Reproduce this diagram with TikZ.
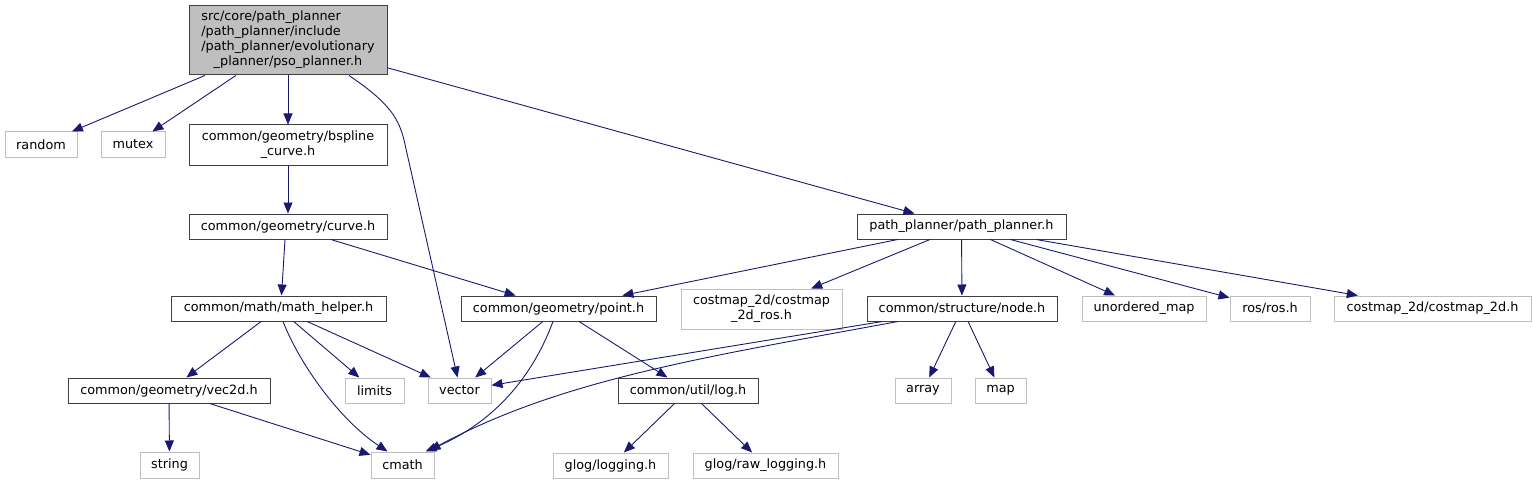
\documentclass[tikz,border=0pt]{standalone}
\usepackage{fontspec}
\setmainfont{DejaVu Sans}
\usetikzlibrary{arrows.meta}
\definecolor{edgec}{HTML}{191970}
\definecolor{grayb}{HTML}{BFBFBF}
\definecolor{boxb}{HTML}{404040}
\begin{document}
\begin{tikzpicture}[x=1pt,y=-1pt,
  every node/.style={font=\fontsize{12.8}{15}\selectfont, inner sep=0pt, text=black, align=center},
  hbox/.style={draw=boxb, line width=1pt, fill=white, minimum height=25pt},
  sbox/.style={draw=grayb, line width=1pt, fill=white, minimum height=25pt},
  edge/.style={draw=edgec, line width=0.9pt, -{Triangle[length=11pt,width=9pt]}}
]
\useasboundingbox (0,0) rectangle (1533,484);

\node[hbox, fill=grayb, minimum width=198pt, minimum height=69pt] (root) at (288,40.5)
 {\begin{tabular}{@{}l@{}}src/core/path\_planner\\/path\_planner/include\\/path\_planner/evolutionary\\\multicolumn{1}{@{}c@{}}{\_planner/pso\_planner.h}\end{tabular}};
\node[sbox, minimum width=72pt] (random) at (41,144.5) {random};
\node[sbox, minimum width=64pt] (mutex) at (133,144.5) {mutex};
\node[hbox, minimum width=198pt, minimum height=40pt] (bspline) at (288,145) {common/geometry/bspline\\\_curve.h};
\node[hbox, minimum width=198pt] (curve) at (288,226.5) {common/geometry/curve.h};
\node[hbox, minimum width=209pt] (pp) at (961.5,226.5) {path\_planner/path\_planner.h};
\node[hbox, minimum width=215pt] (math) at (278.5,308.5) {common/math/math\_helper.h};
\node[hbox, minimum width=195pt] (point) at (558.5,308.5) {common/geometry/point.h};
\node[sbox, minimum width=161pt, minimum height=40pt] (cmros) at (761.5,309) {costmap\_2d/costmap\\\_2d\_ros.h};
\node[hbox, minimum width=190pt] (snode) at (962,308.5) {common/structure/node.h};
\node[sbox, minimum width=124pt] (umap) at (1144,308.5) {unordered\_map};
\node[sbox, minimum width=80pt] (ros) at (1270,308.5) {ros/ros.h};
\node[sbox, minimum width=197pt] (cm2d) at (1432.5,308.5) {costmap\_2d/costmap\_2d.h};
\node[hbox, minimum width=202pt] (vec2d) at (169,390.5) {common/geometry/vec2d.h};
\node[sbox, minimum width=59pt] (limits) at (374.5,390.5) {limits};
\node[sbox, minimum width=63pt] (vector) at (459.5,390.5) {vector};
\node[hbox, minimum width=140pt] (log) at (688,390.5) {common/util/log.h};
\node[sbox, minimum width=56pt] (array) at (923,390.5) {array};
\node[sbox, minimum width=51pt] (map) at (1000.5,390.5) {map};
\node[sbox, minimum width=59pt, minimum height=26pt] (string) at (169.5,465) {string};
\node[sbox, minimum width=63pt, minimum height=26pt] (cmath) at (402.5,465) {cmath};
\node[sbox, minimum width=115pt] (glog) at (610.5,465.5) {glog/logging.h};
\node[sbox, minimum width=145pt] (rawlog) at (765.5,465.5) {glog/raw\_logging.h};

\draw[edge] (root) -- (random);
\draw[edge] (root) -- (mutex);
\draw[edge] (root) -- (bspline);
\draw[edge] ([xshift=61pt]root.south) .. controls (385,100) and (398,115) .. (404,140) -- ([xshift=-2pt]vector.north);
\draw[edge] (root) -- (pp);
\draw[edge] (bspline) -- (curve);
\draw[edge] ([xshift=-3pt]curve.south) -- ([xshift=3pt]math.north);
\draw[edge] (curve) -- (point);
\draw[edge] (math) -- (vec2d);
\draw[edge] ([xshift=4.5pt]math.south) .. controls (300,365) and (340,420) .. ([xshift=-15pt]cmath.north);
\draw[edge] (math) -- (limits);
\draw[edge] (math) -- (vector);
\draw[edge] (vec2d) -- (cmath);
\draw[edge] (vec2d) -- (string);
\draw[edge] (point) -- (vector);
\draw[edge] ([xshift=-5.5pt]point.south) .. controls (535,370) and (500,420) .. ([xshift=-9pt]cmath.north east);
\draw[edge] (point) -- (log);
\draw[edge] (log) -- (glog);
\draw[edge] (log) -- (rawlog);
\draw[edge] (pp) -- (point);
\draw[edge] (pp) -- (cmros);
\draw[edge] (pp) -- (snode);
\draw[edge] (pp) -- (umap);
\draw[edge] (pp) -- (ros);
\draw[edge] (pp) -- (cm2d);
\draw[edge] (snode) -- (vector);
\draw[edge] ([xshift=-64pt]snode.south) .. controls (700,358) and (560,380) .. ([xshift=-5pt,yshift=1pt]cmath.north east);
\draw[edge] (snode) -- (array);
\draw[edge] (snode) -- (map);
\end{tikzpicture}
\end{document}
